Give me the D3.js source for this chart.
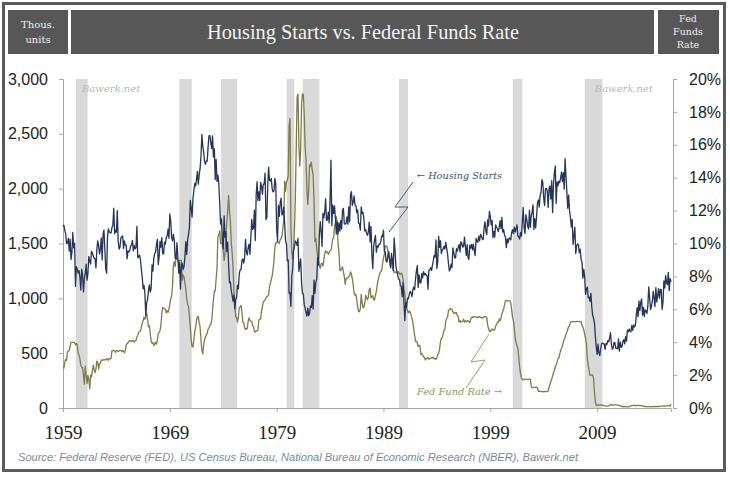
<!DOCTYPE html>
<html><head><meta charset="utf-8">
<script src="https://cdn.jsdelivr.net/npm/d3@7"></script>
<style>body{margin:0;background:#fff}svg{display:block}</style>
</head><body>
<svg id="c" width="730" height="477"></svg>
<script>
// ---- DATA (monthly, Jan 1959 - Dec 2015) ----
const startYear = 1959;
const housingStarts = [
1657,1667,1620,1590,1498,1503,1547,1430,1540,1355,1416,1601,
1460,1503,1109,1289,1266,1231,1253,1195,1076,1266,1218,1058,
1183,1226,1312,1166,1228,1382,1335,1312,1429,1415,1385,1365,
1361,1278,1443,1524,1483,1404,1447,1551,1350,1583,1622,1450,
1271,1230,1563,1633,1606,1597,1597,1646,1665,1822,1589,1623,
1603,1800,1517,1448,1467,1550,1562,1569,1455,1524,1486,1484,
1361,1433,1423,1438,1478,1488,1529,1432,1482,1452,1460,1656,
1370,1378,1394,1352,1265,1194,1086,1119,1046,843,961,990,
1067,1123,1056,1091,1304,1248,1364,1407,1421,1491,1538,1308,
1380,1520,1466,1554,1408,1405,1512,1495,1556,1569,1630,1548,
1769,1705,1561,1524,1583,1528,1368,1358,1507,1381,1229,1327,
1085,1305,1319,1264,1290,1385,1517,1399,1534,1580,1647,1893,
1828,1741,1910,1986,2049,2026,2083,2158,2041,2128,2182,2295,
2494,2390,2334,2249,2221,2254,2252,2382,2481,2485,2421,2366,
2481,2289,2365,2084,2266,2067,2123,2051,1874,1677,1724,1526,
1451,1752,1555,1607,1426,1513,1316,1142,1150,1070,1026,975,
1032,904,993,1005,1121,1087,1226,1260,1264,1344,1360,1321,
1367,1538,1421,1395,1459,1495,1401,1550,1720,1629,1641,1804,
1527,1943,2063,1892,1971,1893,2058,2020,1949,2042,2042,2142,
1718,1738,2032,2197,2075,2070,2092,1996,1970,1981,2094,2044,
1630,1520,1847,1748,1876,1913,1760,1778,1832,1681,1524,1498,
1341,1350,1047,1051,927,1196,1269,1436,1471,1523,1510,1482,
1547,1246,1306,1360,1140,1045,1041,940,911,873,837,910,
843,866,931,917,1025,902,1166,1046,1144,1173,1372,1303,
1586,1699,1606,1472,1776,1733,1785,1910,1710,1715,1785,1688,
1897,2260,1663,1851,1774,1843,1732,1586,1698,1590,1689,1612,
1711,1632,1800,1821,1680,1676,1684,1743,1676,1834,1698,1942,
1972,1848,1876,1933,1854,1847,1782,1807,1687,1681,1623,1833,
1774,1784,1726,1614,1628,1594,1575,1605,1695,1515,1656,1400,
1271,1473,1532,1573,1421,1478,1467,1493,1492,1522,1569,1563,
1621,1425,1422,1339,1331,1397,1427,1332,1279,1410,1351,1251,
1551,1437,1289,1248,1212,1177,1171,1115,1110,1014,1145,969,
798,965,921,1001,996,1036,1063,1049,1015,1079,1103,1079,
1176,1250,1297,1099,1214,1145,1139,1226,1186,1244,1214,1227,
1210,1210,1083,1258,1260,1280,1254,1300,1343,1392,1376,1533,
1272,1337,1564,1465,1526,1409,1439,1450,1474,1450,1511,1455,
1407,1316,1249,1267,1314,1281,1461,1416,1369,1369,1452,1431,
1467,1491,1424,1516,1504,1467,1472,1557,1475,1392,1489,1370,
1355,1486,1457,1492,1442,1494,1437,1390,1546,1520,1510,1566,
1525,1584,1567,1540,1536,1641,1698,1614,1582,1715,1660,1792,
1748,1670,1710,1553,1611,1559,1669,1648,1635,1608,1648,1708,
1636,1737,1604,1626,1575,1559,1463,1541,1507,1549,1551,1532,
1600,1625,1590,1649,1605,1636,1670,1567,1562,1540,1602,1568,
1698,1829,1642,1592,1764,1717,1655,1633,1804,1648,1753,1788,
1853,1629,1726,1643,1751,1867,1897,1833,1939,1967,2083,2057,
1911,1846,1998,2003,1981,1828,2002,2024,1905,2072,1782,2042,
2144,2207,1864,2061,2025,2068,2054,2095,2151,2065,2147,1994,
2273,2119,1969,1821,1942,1802,1737,1650,1720,1491,1570,1649,
1409,1480,1495,1490,1415,1448,1354,1330,1183,1264,1197,1037,
1084,1103,1005,1013,973,1046,923,844,820,777,652,560,
490,582,505,478,540,585,594,586,585,534,588,581,
614,604,636,687,583,536,546,599,594,543,545,539,
630,517,600,554,561,608,623,585,650,610,711,694,
720,701,695,753,708,757,740,754,847,915,833,976,
888,962,994,847,917,835,896,883,863,936,1105,1003,
897,928,969,1063,1006,927,1098,968,1024,1088,1002,1081,
1080,900,964,1158,1094,1207,1145,1124,1237,1071,1179,1149
];
const fedFundsRate = [
2.48,2.43,2.80,2.96,2.90,3.39,3.47,3.50,3.76,3.98,4.00,3.99,
3.99,3.97,3.84,3.92,3.85,3.32,3.23,2.98,2.60,2.47,2.44,1.98,
1.45,2.54,2.02,1.49,1.98,1.73,1.17,2.00,1.88,2.26,2.61,2.33,
2.15,2.37,2.85,2.78,2.36,2.68,2.71,2.93,2.90,2.90,2.94,2.93,
2.92,3.00,2.98,2.90,3.00,2.99,3.02,3.49,3.48,3.50,3.48,3.38,
3.48,3.48,3.43,3.47,3.50,3.50,3.42,3.50,3.45,3.36,3.52,3.85,
3.90,3.98,4.04,4.09,4.10,4.04,4.09,4.12,4.01,4.08,4.10,4.32,
4.42,4.60,4.65,4.67,4.90,5.17,5.30,5.53,5.40,5.53,5.76,5.40,
4.94,5.00,4.53,4.05,3.94,3.98,3.79,3.90,3.99,3.88,4.13,4.51,
4.60,4.71,5.05,5.76,6.11,6.07,6.02,6.03,5.78,5.91,5.82,6.02,
6.30,6.64,6.79,7.41,8.67,8.90,8.61,9.19,9.15,9.00,8.85,8.97,
8.98,8.98,7.76,8.10,7.95,7.61,7.21,6.61,6.29,6.20,5.60,4.90,
4.14,3.72,3.71,4.16,4.63,4.91,5.31,5.56,5.55,5.20,4.91,4.14,
3.50,3.29,3.83,4.17,4.27,4.46,4.55,4.80,4.87,5.04,5.06,5.33,
5.94,6.58,7.09,7.12,7.84,8.49,10.40,10.50,10.78,10.01,10.03,9.95,
9.65,8.97,9.35,10.51,11.31,11.93,12.92,12.01,11.34,10.06,9.45,8.53,
7.13,6.24,5.54,5.49,5.22,5.55,6.10,6.14,6.24,5.82,5.22,5.20,
4.87,4.77,4.84,4.82,5.29,5.48,5.31,5.29,5.25,5.02,4.95,4.65,
4.61,4.68,4.69,4.73,5.35,5.39,5.42,5.90,6.14,6.47,6.51,6.56,
6.70,6.78,6.79,6.89,7.36,7.60,7.81,8.04,8.45,8.96,9.76,10.03,
10.07,10.06,10.09,10.01,10.24,10.29,10.47,10.94,11.43,13.77,13.18,13.78,
13.82,14.13,17.19,17.61,10.98,9.47,9.03,9.61,10.87,12.81,15.85,18.90,
19.08,15.93,14.70,15.72,18.52,19.10,19.04,17.82,15.87,15.08,13.31,12.37,
13.22,14.78,14.68,14.94,14.45,14.15,12.59,10.12,10.31,9.71,9.20,8.95,
8.68,8.51,8.77,8.80,8.63,8.98,9.37,9.56,9.45,9.48,9.34,9.47,
9.56,9.59,9.91,10.29,10.32,11.06,11.23,11.64,11.30,9.99,9.43,8.38,
8.35,8.50,8.58,8.27,7.97,7.53,7.88,7.90,7.92,7.99,8.05,8.27,
8.14,7.86,7.48,6.99,6.85,6.92,6.56,6.17,5.89,5.85,6.04,6.91,
6.43,6.10,6.13,6.37,6.85,6.73,6.58,6.73,7.22,7.29,6.69,6.77,
6.83,6.58,6.58,6.87,7.09,7.51,7.75,8.01,8.19,8.30,8.35,8.76,
9.12,9.36,9.85,9.84,9.81,9.53,9.24,8.99,9.02,8.84,8.55,8.45,
8.23,8.24,8.28,8.26,8.18,8.29,8.15,8.13,8.20,8.11,7.81,7.31,
6.91,6.25,6.12,5.91,5.78,5.90,5.82,5.66,5.45,5.21,4.81,4.43,
4.03,4.06,3.98,3.73,3.82,3.76,3.25,3.30,3.22,3.10,3.09,2.92,
3.02,3.03,3.07,2.96,3.00,3.04,3.06,3.03,3.09,2.99,3.02,2.96,
3.05,3.25,3.34,3.56,4.01,4.25,4.26,4.47,4.73,4.76,5.29,5.45,
5.53,5.92,5.98,6.05,6.01,6.00,5.85,5.74,5.80,5.76,5.80,5.60,
5.56,5.22,5.31,5.22,5.24,5.27,5.40,5.22,5.30,5.24,5.31,5.29,
5.25,5.19,5.39,5.51,5.50,5.56,5.52,5.54,5.54,5.50,5.52,5.50,
5.56,5.51,5.49,5.45,5.49,5.56,5.54,5.55,5.51,5.07,4.83,4.68,
4.63,4.76,4.81,4.74,4.74,4.76,4.99,5.07,5.22,5.20,5.42,5.30,
5.45,5.73,5.85,6.02,6.27,6.53,6.54,6.50,6.52,6.51,6.51,6.40,
5.98,5.49,5.31,4.80,4.21,3.97,3.77,3.65,3.07,2.49,2.09,1.82,
1.73,1.74,1.73,1.75,1.75,1.75,1.73,1.74,1.75,1.75,1.34,1.24,
1.24,1.26,1.25,1.26,1.26,1.22,1.01,1.03,1.01,1.01,1.00,0.98,
1.00,1.01,1.00,1.00,1.00,1.03,1.26,1.43,1.61,1.76,1.93,2.16,
2.28,2.50,2.63,2.79,3.00,3.04,3.26,3.50,3.62,3.78,4.00,4.16,
4.29,4.49,4.59,4.79,4.94,4.99,5.24,5.25,5.25,5.25,5.25,5.24,
5.25,5.26,5.26,5.25,5.25,5.25,5.26,5.02,4.94,4.76,4.49,4.24,
3.94,2.98,2.61,2.28,1.98,2.00,2.01,2.00,1.81,0.97,0.39,0.16,
0.15,0.22,0.18,0.15,0.18,0.21,0.16,0.16,0.15,0.12,0.12,0.12,
0.11,0.13,0.16,0.20,0.20,0.18,0.18,0.19,0.19,0.19,0.19,0.18,
0.17,0.16,0.14,0.10,0.09,0.09,0.07,0.10,0.08,0.07,0.08,0.07,
0.08,0.10,0.13,0.14,0.16,0.16,0.16,0.13,0.14,0.16,0.16,0.16,
0.14,0.15,0.14,0.15,0.11,0.09,0.09,0.08,0.08,0.09,0.08,0.09,
0.07,0.07,0.08,0.09,0.09,0.10,0.09,0.09,0.09,0.09,0.09,0.12,
0.11,0.11,0.11,0.12,0.12,0.13,0.13,0.14,0.14,0.12,0.12,0.24
];
const recessionStart = [1960.2, 1969.9, 1973.8, 1979.95, 1981.45, 1990.45, 2001.1, 2007.85];
const recessionEnd   = [1961.3, 1971.05, 1975.3, 1980.65, 1983.0, 1991.3, 2002.0, 2009.5];
const yearTicks = [1959, 1969, 1979, 1989, 1999, 2009];
const housingTicks = [0, 500, 1000, 1500, 2000, 2500, 3000];
const rateTicks = [0, 2, 4, 6, 8, 10, 12, 14, 16, 18, 20];

// ---- LAYOUT ----
const svg = d3.select("#c");
const L = 63, R = 671, T = 79, B = 408;
const lastDate = startYear + (housingStarts.length - 1) / 12;
const x = d3.scaleLinear().domain([startYear, lastDate]).range([L, R]);
const yL = d3.scaleLinear().domain([0, 3000]).range([B, T]);
const yR = d3.scaleLinear().domain([0, 20]).range([B, T]);

// frame
svg.append("rect").attr("x", 3.5).attr("y", 3.5).attr("width", 721).attr("height", 467)
  .attr("fill", "#fff").attr("stroke", "#5b5b5b").attr("stroke-width", 3);

// header boxes
const hdr = svg.append("g");
const hdrFill = "#575757";
hdr.append("rect").attr("x", 8).attr("y", 10).attr("width", 60).attr("height", 44).attr("fill", hdrFill);
hdr.append("rect").attr("x", 71).attr("y", 10).attr("width", 583).attr("height", 44).attr("fill", hdrFill);
hdr.append("rect").attr("x", 658).attr("y", 10).attr("width", 61).attr("height", 44).attr("fill", hdrFill);
hdr.append("text").attr("x", 363).attr("y", 39).attr("text-anchor", "middle")
  .attr("font-family", "Liberation Serif, serif").attr("font-size", 21).attr("fill", "#f2f2f2")
  .attr("textLength", 312).attr("lengthAdjust", "spacingAndGlyphs")
  .text("Housing Starts vs. Federal Funds Rate");
[["Thous.", 28], ["units", 43]].forEach(([t, yy]) =>
  hdr.append("text").attr("x", 38).attr("y", yy).attr("text-anchor", "middle")
    .attr("font-family", "DejaVu Serif, serif").attr("font-size", 10).attr("fill", "#eee").text(t));
[["Fed", 22], ["Funds", 35], ["Rate", 48]].forEach(([t, yy]) =>
  hdr.append("text").attr("x", 688).attr("y", yy).attr("text-anchor", "middle")
    .attr("font-family", "DejaVu Serif, serif").attr("font-size", 9.5).attr("fill", "#eee").text(t));

// recession bars
const rec = recessionStart.map((s, i) => ({ s, e: recessionEnd[i] }));
svg.append("g").selectAll("rect").data(rec).join("rect")
  .attr("x", d => x(d.s)).attr("width", d => x(d.e) - x(d.s))
  .attr("y", T).attr("height", B - T).attr("fill", "#d9d9d9");

// watermarks
[[82, "start"], [653, "end"]].forEach(([xx, a]) =>
  svg.append("text").attr("x", xx).attr("y", 92).attr("text-anchor", a)
    .attr("font-family", "DejaVu Serif, serif").attr("font-style", "italic")
    .attr("font-size", 10).attr("fill", "#b8b8b8").text("Bawerk.net"));

// axes
const axisColor = "#a6a6a6";
const gL = svg.append("g").attr("transform", `translate(${L},0)`)
  .call(d3.axisLeft(yL).tickValues(housingTicks).tickSize(4).tickPadding(11).tickFormat(d3.format(",")));
const gR = svg.append("g").attr("transform", `translate(${R + 2},0)`)
  .call(d3.axisRight(yR).tickValues(rateTicks).tickSize(4).tickPadding(12).tickFormat(d => d + "%"));
const gB = svg.append("g").attr("transform", `translate(0,${B})`)
  .call(d3.axisBottom(x).tickValues(yearTicks).tickSize(4).tickPadding(14).tickFormat(d3.format("d")));
[gL, gR].forEach(g => {
  g.select(".domain").attr("stroke", axisColor);
  g.selectAll(".tick line").attr("stroke", axisColor);
  g.selectAll("text").attr("font-family", "Liberation Sans, Arial, sans-serif").attr("font-size", 16).attr("fill", "#222");
});
gB.select(".domain").attr("stroke", axisColor);
gB.selectAll(".tick line").attr("stroke", axisColor);
gB.selectAll("text").attr("font-family", "Liberation Serif, serif").attr("font-size", 19).attr("fill", "#222");

// lines
const idx = d3.range(housingStarts.length);
const hLine = d3.line().x(i => x(startYear + i / 12)).y(i => yL(housingStarts[i]));
const fLine = d3.line().x(i => x(startYear + i / 12)).y(i => yR(fedFundsRate[i]));
svg.append("path").attr("d", fLine(idx)).attr("fill", "none")
  .attr("stroke", "#7c7d48").attr("stroke-width", 1.3).attr("stroke-linejoin", "round");
svg.append("path").attr("d", hLine(idx)).attr("fill", "none")
  .attr("stroke", "#26355a").attr("stroke-width", 1.3).attr("stroke-linejoin", "round");

// annotations
const ann = svg.append("g");
ann.append("polyline").attr("points", "413,182 395,207 408,207 389,232")
  .attr("fill", "none").attr("stroke", "#4a5a7a").attr("stroke-width", 1);
ann.append("text").attr("x", 417).attr("y", 179)
  .attr("font-family", "DejaVu Serif, serif").attr("font-style", "italic").attr("font-size", 10)
  .attr("fill", "#3d4d6e").attr("textLength", 85).attr("lengthAdjust", "spacingAndGlyphs")
  .text("\u2190 Housing Starts");
ann.append("polyline").attr("points", "489,334 471,362 485,360 466,388")
  .attr("fill", "none").attr("stroke", "#9aa06a").attr("stroke-width", 1);
ann.append("text").attr("x", 417).attr("y", 395)
  .attr("font-family", "DejaVu Serif, serif").attr("font-style", "italic").attr("font-size", 10)
  .attr("fill", "#8a9a55").attr("textLength", 85).attr("lengthAdjust", "spacingAndGlyphs")
  .text("Fed Fund Rate \u2192");

// source
svg.append("text").attr("x", 18).attr("y", 461)
  .attr("font-family", "Liberation Sans, Arial, sans-serif").attr("font-style", "italic")
  .attr("font-size", 10.5).attr("fill", "#7a8aa0")
  .attr("textLength", 560).attr("lengthAdjust", "spacingAndGlyphs")
  .text("Source:  Federal Reserve (FED), US Census Bureau, National Bureau of Economic Research (NBER), Bawerk.net");
</script>
</body></html>
